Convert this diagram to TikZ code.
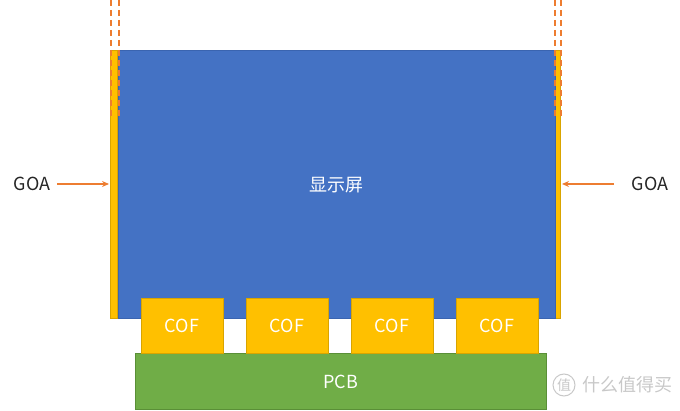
\documentclass[tikz,border=0pt]{standalone}
\usepackage{fontspec}
\setmainfont{Noto Sans CJK SC}
\usetikzlibrary{arrows.meta}
\definecolor{scrblue}{HTML}{4472C4}
\definecolor{scrblueline}{HTML}{3A64B0}
\definecolor{goagold}{HTML}{FFC000}
\definecolor{goaline}{HTML}{D9A400}
\definecolor{pcbgreen}{HTML}{70AD47}
\definecolor{pcbline}{HTML}{5A8F37}
\definecolor{arrowor}{HTML}{ED7D31}
\definecolor{wmgray}{HTML}{C8C8C8}
\tikzset{
  px/.style={x=1pt,y=-1pt},
  screen/.style={fill=scrblue,draw=scrblueline,line width=0.8pt},
  goastrip/.style={fill=goagold,draw=goaline,line width=0.6pt},
  cofbox/.style={fill=goagold,draw=goaline,line width=0.8pt,text=white,font=\fontsize{18}{21}\selectfont},
  pcbbox/.style={fill=pcbgreen,draw=pcbline,line width=0.8pt,text=white,font=\fontsize{18}{21}\selectfont},
  guide/.style={draw=arrowor,dash pattern=on 6pt off 4pt,line width=2pt},
  goaarrow/.style={draw=arrowor,line width=1.3pt,-{Stealth[length=7pt,width=6pt]}},
  goalabel/.style={font=\fontsize{18}{21}\selectfont,text=black!85}
}
\begin{document}
\begin{tikzpicture}[px]
\useasboundingbox (0,0) rectangle (680,411);
% GOA strips
\draw[goastrip] (110.5,50) rectangle (117.5,318.5);
\draw[goastrip] (554,50) rectangle (560.5,318.5);
% screen
\node[screen,minimum width=437pt,minimum height=268.5pt,inner sep=0pt,anchor=north west,
  text=white,font=\fontsize{18}{21}\selectfont] (scr) at (117.5,50) {显示屏};
% guides
\coordinate (gl1t) at (110.5,0); \coordinate (gl1b) at (110.5,118);
\coordinate (gl2t) at (118.5,0); \coordinate (gl2b) at (118.5,118);
\coordinate (gr1t) at (555,0); \coordinate (gr1b) at (555,118);
\coordinate (gr2t) at (561,0); \coordinate (gr2b) at (561,118);
\draw[guide] (gl1t) -- (gl1b);
\draw[guide] (gl2t) -- (gl2b);
\draw[guide] (gr1t) -- (gr1b);
\draw[guide] (gr2t) -- (gr2b);
% PCB
\node[pcbbox,minimum width=411pt,minimum height=56pt,inner sep=0pt,anchor=north west] (pcb) at (135,353.5) {PCB};
% COFs
\foreach \i/\x in {1/140.5,2/245.5,3/350.5,4/455.5}{
  \node[cofbox,minimum width=82pt,minimum height=55pt,inner sep=0pt,anchor=north west] (cof\i) at (\x,298) {COF};
}
% GOA labels
\node[goalabel,inner sep=0pt] (goal) at (32,184) {GOA};
\node[goalabel,inner sep=0pt] (goar) at (650,184) {GOA};
\coordinate (goals) at (57,184);
\coordinate (goalt) at (109,184);
\coordinate (goars) at (614,184);
\coordinate (goart) at (562,184);
\draw[goaarrow] (goals) -- (goalt);
\draw[goaarrow] (goars) -- (goart);
% watermark
\node[draw=wmgray,circle,minimum size=22pt,inner sep=0pt,line width=1pt,text=wmgray,font=\fontsize{14}{15}\selectfont] (wmc) at (564,385) {值};
\node[anchor=west,text=wmgray,font=\fontsize{18}{21}\selectfont,inner sep=0pt] (wmt) at (582,385) {什么值得买};
\end{tikzpicture}
\end{document}
